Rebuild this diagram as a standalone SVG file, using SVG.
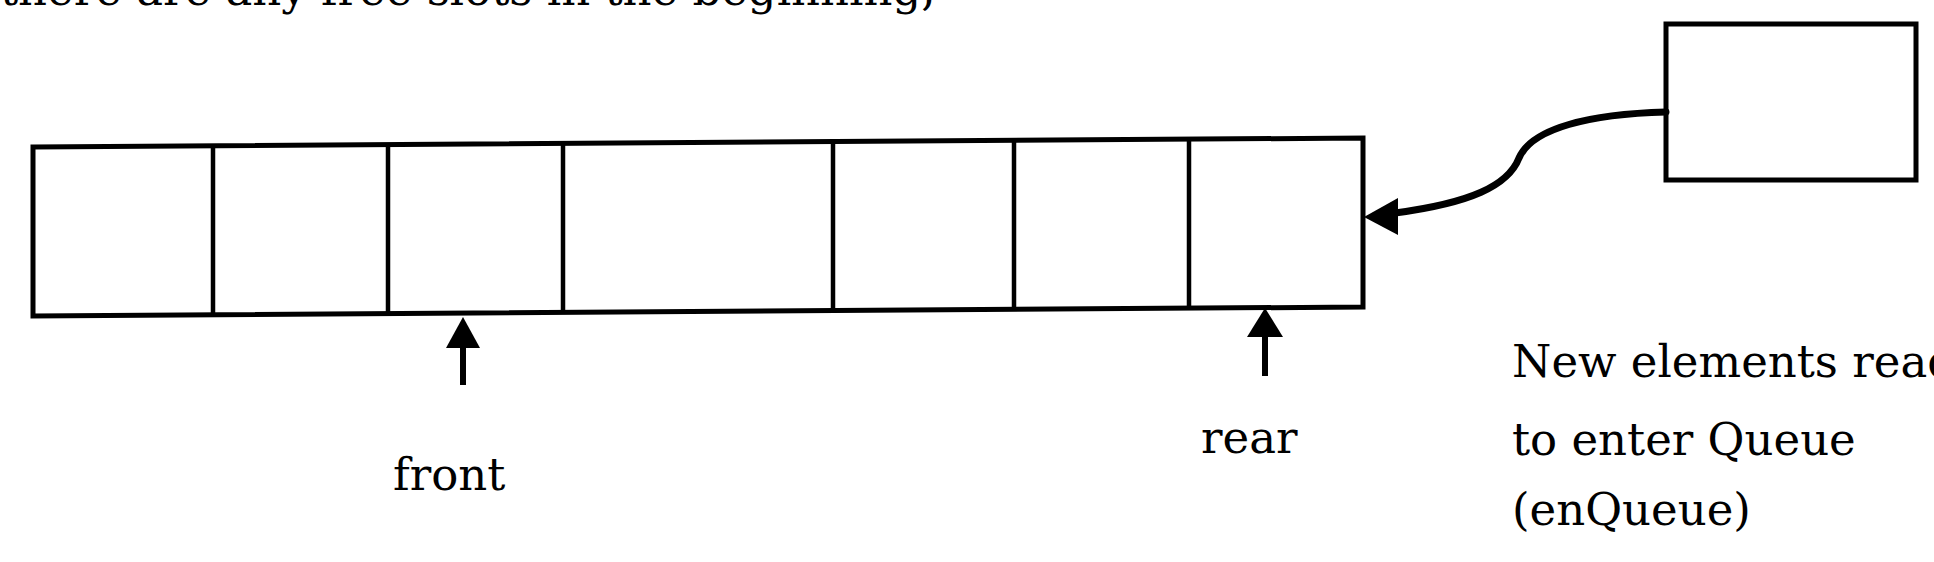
<svg xmlns="http://www.w3.org/2000/svg" width="1934" height="562" viewBox="0 0 1934 562">
  <style>
    .box { fill: #ffffff; stroke: #000000; stroke-width: 5; stroke-linejoin: miter; }
    .div { stroke: #000000; stroke-width: 4.5; fill: none; }
    .shaft { stroke: #000000; stroke-width: 6; fill: none; }
    .conn { stroke: #000000; stroke-width: 7; fill: none; stroke-linecap: round; }
    .head { fill: #000000; stroke: none; }
    .lbl { font-family: "DejaVu Serif", "Liberation Serif", serif; font-size: 45px; fill: #000000; }
  </style>
  <rect x="0" y="0" width="1934" height="562" fill="#ffffff"/>

  <text class="lbl" x="0" y="5">there are any free slots in the beginning,</text>

  <g id="queue">
    <polygon class="box" points="33,147 1363,138 1363,307 33,316"/>
    <line class="div" x1="213" y1="146" x2="213" y2="315"/>
    <line class="div" x1="388" y1="145" x2="388" y2="314"/>
    <line class="div" x1="563" y1="144" x2="563" y2="313"/>
    <line class="div" x1="833" y1="142" x2="833" y2="311"/>
    <line class="div" x1="1014" y1="141" x2="1014" y2="309"/>
    <line class="div" x1="1189" y1="139" x2="1189" y2="308"/>
  </g>

  <g id="new-element">
    <rect class="box" x="1666" y="24" width="250" height="156"/>
  </g>

  <g id="connectors">
    <g id="front-pointer">
      <line class="shaft" x1="463" y1="344" x2="463" y2="385"/>
      <polygon class="head" points="463,317 446,348 480,348"/>
    </g>
    <g id="rear-pointer">
      <line class="shaft" x1="1265" y1="334" x2="1265" y2="376"/>
      <polygon class="head" points="1265,308 1247,337 1283,337"/>
    </g>
    <g id="enqueue-arrow">
      <path class="conn" d="M1666,112 C1590,114 1532,128 1519,158 C1508,186 1470,203 1395,213"/>
      <polygon class="head" points="1364,217 1398,198 1398,235"/>
    </g>
  </g>

  <g id="labels">
    <text class="lbl" x="393" y="490">front</text>
    <text class="lbl" x="1201" y="453">rear</text>
    <text class="lbl" x="1512" y="377">New elements ready</text>
    <text class="lbl" x="1512" y="455">to enter Queue</text>
    <text class="lbl" x="1512" y="525">(enQueue)</text>
  </g>
</svg>
